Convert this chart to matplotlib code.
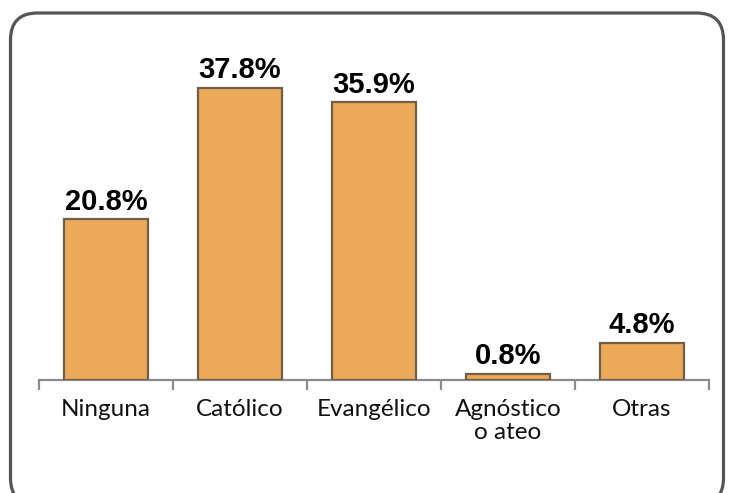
import matplotlib
matplotlib.use("Agg")
import matplotlib.pyplot as plt
from matplotlib.patches import FancyBboxPatch
from matplotlib.transforms import IdentityTransform

categories = ["Ninguna", "Católico", "Evangélico", "Agnóstico\no ateo", "Otras"]
values = [20.8, 37.8, 35.9, 0.8, 4.8]
value_labels = ["20.8%", "37.8%", "35.9%", "0.8%", "4.8%"]

W, H = 731, 493
fig = plt.figure(figsize=(W / 100, H / 100), dpi=100)

# rounded frame around the chart (pixel coordinates, origin bottom-left)
frame = FancyBboxPatch((10.5, -12), 713, 492,
                       boxstyle="round,pad=0,rounding_size=27",
                       transform=IdentityTransform(), fill=False,
                       edgecolor="#555555", linewidth=2.3)
fig.patches.append(frame)

ax_bottom = 380
ax_top = 32
ax = fig.add_axes([39 / W, (H - ax_bottom) / H, 670 / W, (ax_bottom - ax_top) / H])

x = list(range(len(categories)))
ax.bar(x, values, width=0.63, color="#EDA95A", edgecolor="#6E6048", linewidth=1.6, zorder=3)

for xi, v, lab in zip(x, values, value_labels):
    ax.annotate(lab, (xi, v), xytext=(0, 2.5), textcoords="offset points",
                ha="center", va="bottom", fontsize=21, fontweight="bold",
                family="Liberation Sans", color="black")

ax.set_xlim(-0.5, len(categories) - 0.5)
ax.set_ylim(0, 45)
for s in ["top", "right", "left"]:
    ax.spines[s].set_visible(False)
ax.spines["bottom"].set_color("#8C8C8C")
ax.spines["bottom"].set_linewidth(1.6)
ax.set_yticks([])
ax.set_xticks([i - 0.5 for i in range(len(categories) + 1)], minor=True)
ax.set_xticks(x)
ax.set_xticklabels(categories, family="Lato", fontsize=17.5, color="#111111", linespacing=1.15)
ax.tick_params(axis="x", which="major", length=0, pad=13.5)
ax.tick_params(axis="x", which="minor", length=7, width=1.6, color="#8C8C8C", direction="out")

fig.savefig("out.png", dpi=100)
